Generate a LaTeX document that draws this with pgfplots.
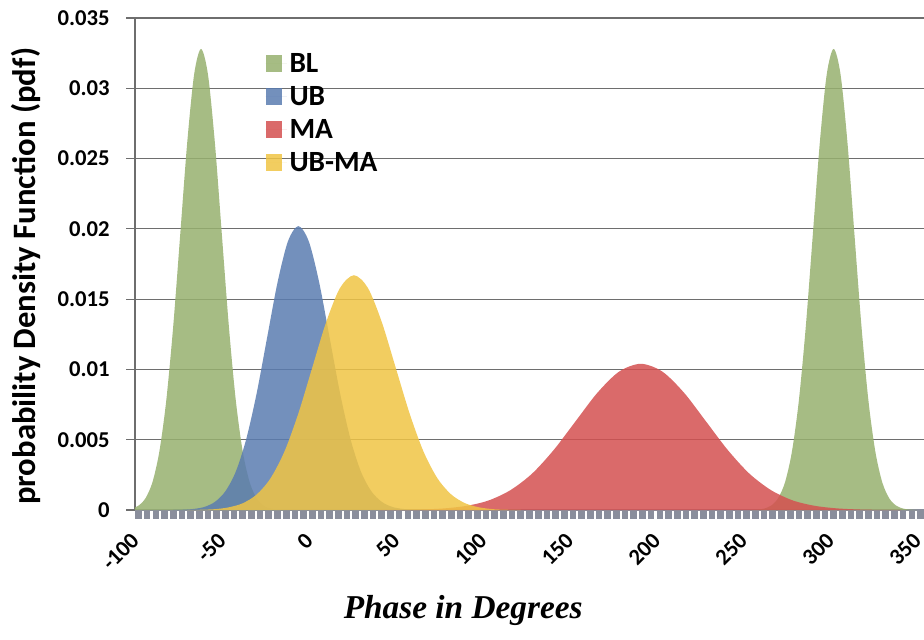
\documentclass[border=0pt]{standalone}
\usepackage{fontspec}
\setmainfont{Carlito}
\newfontfamily\serifbi{Liberation Serif}
\usepackage{pgfplots}
\pgfplotsset{compat=1.18}
\definecolor{blc}{RGB}{150,176,110}
\definecolor{ubc}{RGB}{90,124,176}
\definecolor{mac}{RGB}{212,80,80}
\definecolor{umc}{RGB}{240,196,68}
\definecolor{gridc}{RGB}{110,110,110}
\definecolor{tickc}{RGB}{138,142,156}
\begin{document}
\begin{tikzpicture}
\useasboundingbox (-101.25pt,-96.75pt) rectangle (591.75pt,382.5pt);
\begin{axis}[
  at={(0pt,0pt)}, anchor=south west,
  scale only axis, width=591.75pt, height=369pt,
  xmin=-102, xmax=352, ymin=0, ymax=0.035,
  axis x line*=bottom, axis y line*=left,
  x axis line style={draw=tickc, line width=0.8pt, -},
  y axis line style={draw=gridc, line width=0.8pt, -},
  xtick={-100,-50,0,50,100,150,200,250,300,350},
  xticklabels={-100,-50,0,50,100,150,200,250,300,350},
  minor x tick num=9,
  ytick={0,0.005,0.01,0.015,0.02,0.025,0.03,0.035},
  yticklabels={0,0.005,0.01,0.015,0.02,0.025,0.03,0.035},
  scaled y ticks=false,
  tick align=outside,
  major tick length=6.5pt, minor tick length=6.5pt,
  x tick style={draw=tickc, line width=5pt},
  y tick style={draw=gridc, line width=0.8pt},
  ymajorgrids,
  grid style={draw=gridc, line width=0.8pt},
  ticklabel style={font=\fontsize{17}{17}\selectfont\bfseries},
  xticklabel style={rotate=45, anchor=east, xshift=-8pt, yshift=-8pt},
  yticklabel style={xshift=-9pt},
  xlabel={\serifbi\bfseries\itshape Phase in Degrees},
  xlabel style={font=\fontsize{25}{25}\selectfont, at={(axis description cs:0.416,-0.205)}, anchor=center},
  ylabel={probability Density Function (pdf)},
  ylabel style={font=\fontsize{24.5}{24.5}\selectfont\bfseries, at={(axis description cs:-0.138,0.475)}, anchor=center},
  legend style={at={(axis description cs:0.16,0.94)}, anchor=north west, draw=none, fill=none,
    font=\fontsize{22}{22}\selectfont\bfseries, row sep=5pt},
  legend cell align=left,
  legend image code/.code={\path[#1, draw=none] (0pt,-6.2pt) rectangle (12.5pt,6.2pt); \path (0pt,0pt) -- (16pt,0pt);},
]
\addplot[fill=blc, fill opacity=0.85, draw=none, smooth] coordinates {
(-112,0) (-108,0.00003) (-104,0.00010) (-100,0.00031) (-96,0.00083) (-92,0.00196) (-88,0.00415) (-84,0.00780) (-80,0.01308) (-76,0.01956) (-72,0.02607) (-68,0.03097) (-64,0.03280) (-60,0.03097) (-56,0.02607) (-52,0.01956) (-48,0.01308) (-44,0.00780) (-40,0.00415) (-36,0.00196) (-32,0.00083) (-28,0.00031) (-24,0.00010) (-20,0.00003) (-16,0)
} \closedcycle;
\addlegendentry{BL}
\addplot[fill=blc, fill opacity=0.85, draw=none, smooth, forget plot] coordinates {
(252,0) (256,0.00003) (260,0.00010) (264,0.00031) (268,0.00083) (272,0.00196) (276,0.00415) (280,0.00780) (284,0.01308) (288,0.01956) (292,0.02607) (296,0.03097) (300,0.03280) (304,0.03097) (308,0.02607) (312,0.01956) (316,0.01308) (320,0.00780) (324,0.00415) (328,0.00196) (332,0.00083) (336,0.00031) (340,0.00010) (344,0.00003) (348,0)
} \closedcycle;
\addplot[fill=ubc, fill opacity=0.85, draw=none, smooth] coordinates {
(-80,0) (-74,0.00002) (-68,0.00008) (-62,0.00022) (-56,0.00058) (-50,0.00133) (-44,0.00273) (-38,0.00504) (-32,0.00830) (-26,0.01225) (-20,0.01618) (-14,0.01911) (-8,0.02020) (-2,0.01911) (4,0.01618) (10,0.01225) (16,0.00830) (22,0.00504) (28,0.00273) (34,0.00133) (40,0.00058) (46,0.00022) (52,0.00008) (58,0.00002) (64,0)
} \closedcycle;
\addlegendentry{UB}
\addplot[fill=mac, fill opacity=0.85, draw=none, smooth] coordinates {
(39,0) (51.5,0.00001) (64,0.00004) (76.5,0.00012) (89,0.00030) (101.5,0.00068) (114,0.00141) (126.5,0.00259) (139,0.00428) (151.5,0.00631) (164,0.00833) (176.5,0.00984) (189,0.01040) (201.5,0.00984) (214,0.00833) (226.5,0.00631) (239,0.00428) (251.5,0.00259) (264,0.00141) (276.5,0.00068) (289,0.00030) (301.5,0.00012) (314,0.00004) (326.5,0.00001) (339,0)
} \closedcycle;
\addlegendentry{MA}
\addplot[fill=umc, fill opacity=0.85, draw=none, smooth] coordinates {
(-72,0) (-64,0.00002) (-56,0.00006) (-48,0.00019) (-40,0.00048) (-32,0.00110) (-24,0.00226) (-16,0.00416) (-8,0.00687) (0,0.01013) (8,0.01337) (16,0.01580) (24,0.01670) (32,0.01580) (40,0.01337) (48,0.01013) (56,0.00687) (64,0.00416) (72,0.00226) (80,0.00110) (88,0.00048) (96,0.00019) (104,0.00006) (112,0.00002) (120,0)
} \closedcycle;
\addlegendentry{UB-MA}
\end{axis}
\end{tikzpicture}
\end{document}
